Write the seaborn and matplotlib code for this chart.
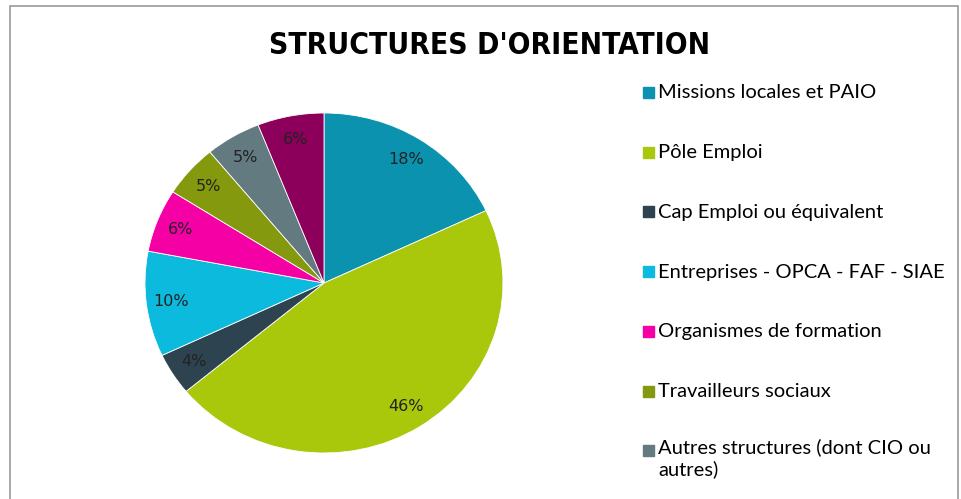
import matplotlib
matplotlib.use("Agg")
import matplotlib.pyplot as plt
import seaborn as sns
from matplotlib.patches import Rectangle

# data
labels = [
    "Missions locales et PAIO",
    "Pôle Emploi",
    "Cap Emploi ou équivalent",
    "Entreprises - OPCA - FAF - SIAE",
    "Organismes de formation",
    "Travailleurs sociaux",
    "Autres structures (dont CIO ou\nautres)",
    "Autres",
]
values = [18, 46, 4, 10, 6, 5, 5, 6]
colors = ["#0a92ae", "#a9c80b", "#2d4350", "#0bbadc",
          "#f500a5", "#85990f", "#627a80", "#8c005c"]

sns.set_theme(style="white")
palette = sns.color_palette(colors)

W, H = 962, 499
fig = plt.figure(figsize=(W / 100, H / 100), dpi=100)

# outer frame of the chart area
fig.patches.append(Rectangle((10 / W, -0.1), 948 / W, 1 - 6 / H + 0.1,
                             transform=fig.transFigure, fill=False,
                             edgecolor="#9a9a9a", linewidth=1.2))

# pie (slightly wider than tall, like the original)
cx, cy, rx, ry = 324, 283, 179, 170
ax = fig.add_axes([(cx - rx) / W, (H - cy - ry) / H, 2 * rx / W, 2 * ry / H])
wedges, texts, autotexts = ax.pie(
    values, colors=palette, startangle=90, counterclock=False,
    autopct="%1.0f%%", pctdistance=0.86,
    wedgeprops=dict(linewidth=0.6, edgecolor="white"),
    textprops=dict(fontsize=11.5, color="#222222"),
)
ax.set_aspect("auto")
ax.set_xlim(-1, 1)
ax.set_ylim(-1, 1)

# title
fig.text(490 / W, 1 - 45 / H, "STRUCTURES D'ORIENTATION",
         ha="center", va="center", fontsize=21.5, fontweight="bold",
         fontstretch="condensed", family=["DejaVu Sans"], color="black")

# legend (the last entry falls below the visible area in the original)
for i, (lab, col) in enumerate(zip(labels, palette)):
    y = 92 + i * 59.7
    if y > H:
        continue
    fig.patches.append(Rectangle((643 / W, 1 - (y + 6) / H), 11 / W, 11 / H,
                                 transform=fig.transFigure, color=col))
    if "\n" in lab:
        fig.text(658 / W, 1 - (y - 12) / H, lab, ha="left", va="top",
                 fontsize=14.5, family=["Lato", "DejaVu Sans"], color="black",
                 linespacing=1.25)
    else:
        fig.text(658 / W, 1 - (y + 1) / H, lab, ha="left", va="center",
                 fontsize=14.5, family=["Lato", "DejaVu Sans"], color="black")

fig.savefig("out.png", dpi=100)
